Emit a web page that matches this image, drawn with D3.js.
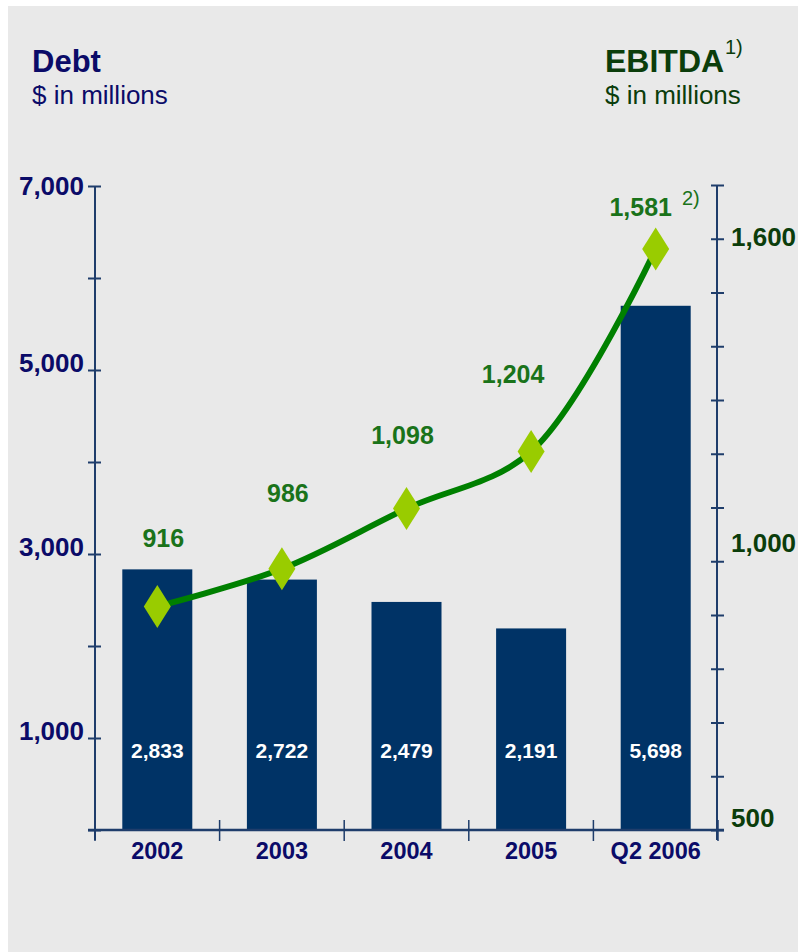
<!DOCTYPE html>
<html>
<head>
<meta charset="utf-8">
<script src="https://d3js.org/d3.v7.min.js"></script>
<style>
  body { margin: 0; background: #fff; }
  svg text { font-family: "Liberation Sans", Arial, sans-serif; }
</style>
</head>
<body>
<div id="chart"></div>
<script>
// data
var categories = ['2002', '2003', '2004', '2005', 'Q2 2006'];
var debt = [2833, 2722, 2479, 2191, 5698];
var ebitda = [916, 986, 1098, 1204, 1581];
var leftTicks = [0, 1000, 2000, 3000, 4000, 5000, 6000, 7000];
var leftTickLabels = [1000, 3000, 5000, 7000];
var rightTicks = [500, 600, 700, 800, 900, 1000, 1100, 1200, 1300, 1400, 1500, 1600, 1700];
var rightTickLabels = [500, 1000, 1600];

var width = 798, height = 952;
var navy = '#0b0b68', barBlue = '#003366', axisBlue = '#1f3d6b';
var darkGreen = '#0b3d0b', valGreen = '#1a731a';
var fmt = d3.format(',');

var svg = d3.select('#chart').append('svg')
    .attr('width', width)
    .attr('height', height);

svg.append('rect')
    .attr('x', 8).attr('y', 6)
    .attr('width', width - 8).attr('height', height - 6)
    .attr('fill', '#e9e9e9');

var x = d3.scaleBand().domain(categories).range([95, 718]);
var yL = d3.scaleLinear().domain([0, 7000]).range([830, 186]);
var yR = d3.scaleLinear().domain([500, 1700]).range([830, 185]);
var barW = 70;

// bars
svg.selectAll('.bar')
    .data(debt)
    .enter().append('rect')
    .attr('class', 'bar')
    .attr('x', function(d, i){ return x(categories[i]) + x.bandwidth()/2 - barW/2; })
    .attr('y', function(d){ return yL(d); })
    .attr('width', barW)
    .attr('height', function(d){ return yL(0) - yL(d); })
    .attr('fill', barBlue);

// bar value labels
svg.selectAll('.barLabel')
    .data(debt)
    .enter().append('text')
    .attr('x', function(d, i){ return x(categories[i]) + x.bandwidth()/2; })
    .attr('y', yL(0) - 72)
    .attr('text-anchor', 'middle')
    .attr('font-weight', 'bold')
    .attr('font-size', 21)
    .attr('fill', '#fff')
    .text(function(d){ return fmt(d); });

// left axis, ticks crossing the line
var leftAxis = svg.append('g').attr('transform', 'translate(95,0)');
leftAxis.call(d3.axisLeft(yL).tickValues(leftTicks).tickSize(7).tickFormat(''));
leftAxis.append('g').call(d3.axisRight(yL).tickValues(leftTicks).tickSize(6).tickFormat(''))
    .select('.domain').remove();
leftAxis.select('.domain').attr('d', 'M0,' + yL(7000) + 'V840');
leftAxis.selectAll('line, path').attr('stroke', axisBlue).attr('stroke-width', 2);

svg.selectAll('.leftLabel')
    .data(leftTickLabels)
    .enter().append('text')
    .attr('x', 84)
    .attr('y', function(d){ return yL(d) - (d === 7000 ? 0 : 7); })
    .attr('dy', '0.35em')
    .attr('text-anchor', 'end')
    .attr('font-weight', 'bold')
    .attr('font-size', 26)
    .attr('fill', navy)
    .text(function(d){ return fmt(d); });

// right axis
var rightAxis = svg.append('g').attr('transform', 'translate(717,0)');
rightAxis.call(d3.axisRight(yR).tickValues(rightTicks).tickSize(7).tickFormat(''));
rightAxis.append('g').call(d3.axisLeft(yR).tickValues(rightTicks).tickSize(6).tickFormat(''))
    .select('.domain').remove();
rightAxis.select('.domain').attr('d', 'M0,' + yR(1700) + 'V840');
rightAxis.selectAll('line, path').attr('stroke', axisBlue).attr('stroke-width', 2);

var rightNudge = {500: -12, 1000: -18, 1600: -2};
svg.selectAll('.rightLabel')
    .data(rightTickLabels)
    .enter().append('text')
    .attr('x', 731)
    .attr('y', function(d){ return yR(d) + rightNudge[d]; })
    .attr('dy', '0.35em')
    .attr('font-weight', 'bold')
    .attr('font-size', 26)
    .attr('fill', darkGreen)
    .text(function(d){ return fmt(d); });

// x axis
var xAxis = svg.append('g').attr('transform', 'translate(0,830)');
xAxis.append('line')
    .attr('x1', 88).attr('x2', 724)
    .attr('stroke', axisBlue).attr('stroke-width', 2.5);
xAxis.selectAll('.xtick')
    .data(categories.concat(['end']))
    .enter().append('line')
    .attr('x1', function(d, i){ return 95 + i * x.step(); })
    .attr('x2', function(d, i){ return 95 + i * x.step(); })
    .attr('y1', -10).attr('y2', 11)
    .attr('stroke', axisBlue).attr('stroke-width', 1.5);
xAxis.selectAll('.xlabel')
    .data(categories)
    .enter().append('text')
    .attr('x', function(d){ return x(d) + x.bandwidth()/2; })
    .attr('y', 21)
    .attr('dy', '0.35em')
    .attr('text-anchor', 'middle')
    .attr('font-weight', 'bold')
    .attr('font-size', 23.5)
    .attr('fill', navy)
    .text(function(d){ return d; });

// EBITDA line
var line = d3.line()
    .x(function(d, i){ return x(categories[i]) + x.bandwidth()/2; })
    .y(function(d){ return yR(d); })
    .curve(d3.curveCatmullRom.alpha(0.5));

svg.append('path')
    .datum(ebitda)
    .attr('d', line)
    .attr('fill', 'none')
    .attr('stroke', '#008000')
    .attr('stroke-width', 6);

svg.selectAll('.diamond')
    .data(ebitda)
    .enter().append('path')
    .attr('transform', function(d, i){
        return 'translate(' + (x(categories[i]) + x.bandwidth()/2) + ',' + yR(d) + ')';
    })
    .attr('d', 'M0,-21.5L13.5,0L0,21.5L-13.5,0Z')
    .attr('fill', '#99cc00');

// value labels above the diamonds
var labelNudge = [[6, -68], [6, -76], [-4, -73], [-18, -77], [-15, -42]];
svg.selectAll('.valLabel')
    .data(ebitda)
    .enter().append('text')
    .attr('x', function(d, i){ return x(categories[i]) + x.bandwidth()/2 + labelNudge[i][0]; })
    .attr('y', function(d, i){ return yR(d) + labelNudge[i][1]; })
    .attr('dy', '0.35em')
    .attr('text-anchor', 'middle')
    .attr('font-weight', 'bold')
    .attr('font-size', 25)
    .attr('fill', valGreen)
    .text(function(d){ return fmt(d); });

svg.append('text')
    .attr('x', 682).attr('y', 205)
    .attr('font-size', 20)
    .attr('fill', valGreen)
    .text('2)');

// titles
svg.append('text')
    .attr('x', 32).attr('y', 72)
    .attr('font-weight', 'bold').attr('font-size', 31)
    .attr('fill', navy)
    .text('Debt');
svg.append('text')
    .attr('x', 32).attr('y', 104)
    .attr('font-size', 26)
    .attr('fill', navy)
    .text('$ in millions');

svg.append('text')
    .attr('x', 605).attr('y', 72)
    .attr('font-weight', 'bold').attr('font-size', 32)
    .attr('fill', darkGreen)
    .text('EBITDA');
svg.append('text')
    .attr('x', 725).attr('y', 54)
    .attr('font-size', 20)
    .attr('fill', darkGreen)
    .text('1)');
svg.append('text')
    .attr('x', 605).attr('y', 104)
    .attr('font-size', 26)
    .attr('fill', darkGreen)
    .text('$ in millions');
</script>
</body>
</html>
